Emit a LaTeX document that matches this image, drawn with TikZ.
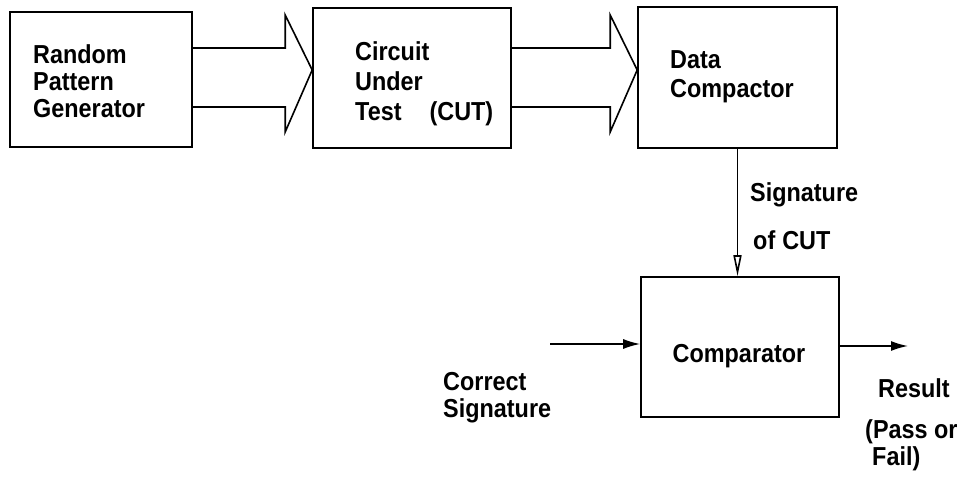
\documentclass[tikz,border=0pt]{standalone}
\usepackage{fontspec}
\setmainfont[FakeStretch=0.9]{Liberation Sans}
\usepackage{tikz}
\usetikzlibrary{arrows.meta}
\tikzset{
	blk/.style={draw, line width=1.6pt, inner sep=0pt},
	txt/.style={inner sep=0pt, align=left, font=\fontsize{26}{27}\selectfont\bfseries},
	bus/.style={line width=1.6pt, line join=miter},
	wire/.style={line width=1.6pt},
}
\def\Bus#1#2{
	\path ([xshift=-27pt]#2.west) coordinate (#2head);
	\draw[bus] (#1.east |- 0,48) -| (#2head |- 0,15) -- (#2.west |- 0,70) -- (#2head |- 0,132) |- (#1.east |- 0,107);
}

\begin{document}
\begin{tikzpicture}[x=1pt, y=-1pt]
	\useasboundingbox (0,0) rectangle (961,478);

	\node[blk, minimum width=182pt, minimum height=135pt] (rpg) at (101,79.5) {};
	\node[blk, minimum width=198pt, minimum height=140pt] (cut) at (412,78) {};
	\node[blk, minimum width=199pt, minimum height=141pt] (dc) at (737.5,77.5) {};
	\node[blk, minimum width=198pt, minimum height=140pt] (cmp) at (740,347) {};

	\node[txt, anchor=north west] (rpgtxt) at (33,44) {Random\\Pattern\\Generator};
	\node[txt, anchor=north west, font=\fontsize{26}{30}\selectfont\bfseries] (cuttxt) at (355,41) {Circuit\\Under\\Test\hspace{28pt}(CUT)};
	\node[txt, anchor=north west, font=\fontsize{26}{29}\selectfont\bfseries] (dctxt) at (670,50) {Data\\Compactor};
	\node[txt, anchor=base] (cmptxt) at (739,362) {Comparator};

	\Bus{rpg}{cut}
	\Bus{cut}{dc}

	\draw[wire, -{Triangle[open, length=21pt, width=8pt]}] (dc.south) -- (dc.south |- cmp.north);
	\node[txt, anchor=base west] (sig) at (750,202) {Signature};
	\node[txt, anchor=base west] (sigof) at (753,250) {of\hspace{7pt}CUT};

	\coordinate (csin) at (550,344);
	\coordinate (resout) at (908,346);
	\draw[wire, -{Latex[length=17pt, width=10pt]}] (csin) -- (csin -| cmp.west);
	\draw[wire, -{Latex[length=17pt, width=10pt]}] (cmp.east |- resout) -- (resout);

	\node[txt, anchor=north west] (cs) at (443,372) {Correct\\Signature};
	\node[txt, anchor=base west] (res) at (878,397) {Result};
	\node[txt, anchor=north west] (pf) at (865,419) {(Pass or\\\hspace{7pt}Fail)};
\end{tikzpicture}
\end{document}
